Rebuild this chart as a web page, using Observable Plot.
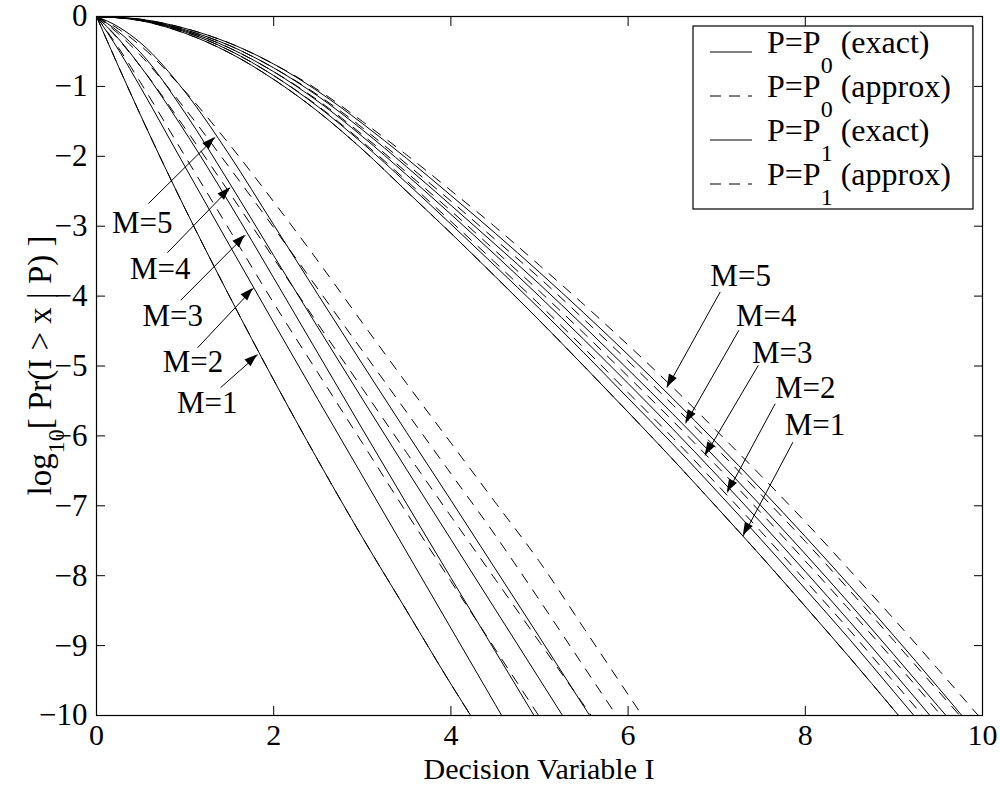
<!DOCTYPE html>
<html><head><meta charset="utf-8">
<script src="https://cdn.jsdelivr.net/npm/d3@7"></script>
<script src="https://cdn.jsdelivr.net/npm/@observablehq/plot@0.6"></script>
<style>body{margin:0;background:#fff} #chart{width:1000px;height:786px}</style>
</head><body><div id="chart"></div>
<script>
// ---------- data ----------
const xTicks = [0, 2, 4, 6, 8, 10];
const yTicks = [0, -1, -2, -3, -4, -5, -6, -7, -8, -9, -10];
const mValues = [1, 2, 3, 4, 5];

// left family (steep curves): x samples
const xLeft = [0, 0.25, 0.5, 1, 1.5, 2, 2.5, 3, 3.5, 4, 4.5, 5, 5.5, 6, 6.5];
const leftExactM1 = [0, -0.72, -1.42, -2.75, -4.0, -5.2, -6.35, -7.45, -8.5, -9.55, -10.55];
const leftExactM2 = [0, -0.48, -1.02, -2.15, -3.27, -4.38, -5.48, -6.57, -7.66, -8.75, -9.84, -10.93];
const leftExactM3 = [0, -0.32, -0.72, -1.65, -2.67, -3.74, -4.82, -5.9, -6.97, -8.03, -9.08, -10.13];
const leftExactM4 = [0, -0.22, -0.52, -1.38, -2.38, -3.42, -4.45, -5.47, -6.48, -7.48, -8.48, -9.48, -10.48];
const leftExactM5 = [0, -0.15, -0.38, -1.08, -1.98, -2.98, -3.98, -4.97, -5.95, -6.92, -7.9, -8.88, -9.87, -10.85];
const leftApproxM1 = [0, -0.72, -1.42, -2.75, -4.0, -5.2, -6.35, -7.45, -8.5, -9.55, -10.55];
const leftApproxM2 = [0, -0.45, -0.95, -2.0, -3.05, -4.1, -5.1, -6.1, -7.1, -8.08, -9.05, -10.02, -11.0];
const leftApproxM3 = [0, -0.33, -0.72, -1.6, -2.52, -3.46, -4.4, -5.32, -6.24, -7.15, -8.05, -8.95, -9.85, -10.75];
const leftApproxM4 = [0, -0.25, -0.56, -1.32, -2.16, -3.02, -3.9, -4.78, -5.66, -6.54, -7.42, -8.35, -9.3, -10.25];
const leftApproxM5 = [0, -0.18, -0.42, -1.07, -1.83, -2.65, -3.5, -4.38, -5.25, -6.1, -6.95, -7.8, -8.75, -9.7, -10.65];

// right family (slow curves): x samples
const xRight = [0, 0.5, 1, 1.5, 2, 2.5, 3, 3.5, 4, 4.5, 5, 5.5, 6, 6.5, 7, 7.5, 8, 8.5, 9, 9.5, 10];
const rightExactM1 = [0, -0.06, -0.24, -0.52, -0.9, -1.36, -1.9, -2.5, -3.1, -3.72, -4.35, -5.0, -5.66, -6.33, -7.02, -7.72, -8.44, -9.17, -9.92, -10.68];
const rightExactM2 = [0, -0.055, -0.22, -0.485, -0.845, -1.29, -1.81, -2.38, -2.97, -3.57, -4.18, -4.81, -5.46, -6.11, -6.79, -7.48, -8.19, -8.91, -9.66, -10.41];
const rightExactM3 = [0, -0.05, -0.205, -0.45, -0.79, -1.215, -1.715, -2.265, -2.83, -3.41, -4.005, -4.62, -5.25, -5.895, -6.56, -7.24, -7.94, -8.655, -9.39, -10.14];
const rightExactM4 = [0, -0.045, -0.19, -0.415, -0.735, -1.14, -1.62, -2.15, -2.7, -3.26, -3.83, -4.43, -5.05, -5.68, -6.33, -7.0, -7.69, -8.4, -9.13, -9.87, -10.6];
const rightExactM5 = [0, -0.04, -0.17, -0.38, -0.68, -1.07, -1.53, -2.03, -2.56, -3.1, -3.66, -4.24, -4.84, -5.46, -6.1, -6.76, -7.44, -8.14, -8.86, -9.6, -10.35];
const rightApproxM1 = [0, -0.06, -0.24, -0.52, -0.9, -1.36, -1.9, -2.5, -3.1, -3.72, -4.35, -5.0, -5.66, -6.33, -7.02, -7.72, -8.44, -9.17, -9.92, -10.68];
const rightApproxM2 = [0, -0.055, -0.22, -0.485, -0.845, -1.28, -1.79, -2.35, -2.93, -3.52, -4.12, -4.74, -5.38, -6.02, -6.69, -7.37, -8.07, -8.78, -9.52, -10.26];
const rightApproxM3 = [0, -0.05, -0.205, -0.45, -0.79, -1.2, -1.69, -2.23, -2.78, -3.35, -3.93, -4.53, -5.15, -5.78, -6.43, -7.1, -7.79, -8.49, -9.21, -9.95, -10.7];
const rightApproxM4 = [0, -0.045, -0.19, -0.415, -0.735, -1.125, -1.59, -2.11, -2.64, -3.19, -3.74, -4.33, -4.93, -5.55, -6.18, -6.84, -7.51, -8.21, -8.93, -9.65, -10.37];
const rightApproxM5 = [0, -0.04, -0.17, -0.38, -0.68, -1.05, -1.5, -1.98, -2.49, -3.01, -3.56, -4.12, -4.7, -5.3, -5.93, -6.57, -7.23, -7.92, -8.62, -9.34, -10.07];

// annotations (data coordinates), index = M-1
const leftLabelX = [1.25, 1.09, 0.86, 0.72, 0.516];
const leftLabelY = [-5.53, -4.94, -4.28, -3.61, -2.95];
const leftArrowFromX = [1.40, 1.14, 0.95, 0.80, 0.587];
const leftArrowFromY = [-5.31, -4.74, -4.06, -3.38, -2.675];
const leftArrowToX = [1.82, 1.77, 1.68, 1.51, 1.34];
const leftArrowToY = [-4.84, -3.89, -3.13, -2.45, -1.73];
const rightLabelX = [8.11, 8.00, 7.74, 7.56, 7.27];
const rightLabelY = [-5.85, -5.31, -4.81, -4.29, -3.71];
const rightArrowFromX = [7.86, 7.66, 7.47, 7.25, 7.04];
const rightArrowFromY = [-6.09, -5.54, -4.99, -4.49, -3.94];
const rightArrowToX = [7.30, 7.12, 6.87, 6.65, 6.44];
const rightArrowToY = [-7.43, -6.81, -6.28, -5.82, -5.31];

const legendMain = ["P=P", "P=P", "P=P", "P=P"];
const legendSub = ["0", "0", "1", "1"];
const legendRest = [" (exact)", " (approx)", " (exact)", " (approx)"];
const legendDashed = [false, true, false, true];

// ---------- tables ----------
function rowsFor(xs, ys, key) { return ys.map((y, i) => ({x: xs[i], y, key})); }
const exactRows = [
  ...[leftExactM1, leftExactM2, leftExactM3, leftExactM4, leftExactM5].flatMap((s, i) => rowsFor(xLeft, s, "L" + mValues[i])),
  ...[rightExactM1, rightExactM2, rightExactM3, rightExactM4, rightExactM5].flatMap((s, i) => rowsFor(xRight, s, "R" + mValues[i]))
];
const approxRows = [
  ...[leftApproxM1, leftApproxM2, leftApproxM3, leftApproxM4, leftApproxM5].flatMap((s, i) => rowsFor(xLeft, s, "L" + mValues[i])),
  ...[rightApproxM1, rightApproxM2, rightApproxM3, rightApproxM4, rightApproxM5].flatMap((s, i) => rowsFor(xRight, s, "R" + mValues[i]))
];
const arrows = [
  ...mValues.map((m, i) => ({x1: leftArrowFromX[i], y1: leftArrowFromY[i], x2: leftArrowToX[i], y2: leftArrowToY[i]})),
  ...mValues.map((m, i) => ({x1: rightArrowFromX[i], y1: rightArrowFromY[i], x2: rightArrowToX[i], y2: rightArrowToY[i]}))
];
const labels = [
  ...mValues.map((m, i) => ({x: leftLabelX[i], y: leftLabelY[i], t: "M=" + m})),
  ...mValues.map((m, i) => ({x: rightLabelX[i], y: rightLabelY[i], t: "M=" + m}))
];

const FONT = "'Liberation Serif', 'Times New Roman', serif";
const fmt = d => d < 0 ? "\u2212" + (-d) : String(d);
const blank = () => "";

const plot = Plot.plot({
  width: 1000, height: 786,
  marginLeft: 96, marginRight: 18, marginTop: 16, marginBottom: 71,
  x: {domain: [0, 10]},
  y: {domain: [-10, 0]},
  style: {fontFamily: FONT, fontSize: "31px", background: "white", color: "black", overflow: "visible"},
  marks: [
    Plot.line(exactRows, {x: "x", y: "y", z: "key", stroke: "black", strokeWidth: 1, curve: "monotone-x", clip: true}),
    Plot.line(approxRows, {x: "x", y: "y", z: "key", stroke: "black", strokeWidth: 1, strokeDasharray: "10,9", curve: "monotone-x", clip: true}),
    Plot.link(arrows, {x1: "x1", y1: "y1", x2: "x2", y2: "y2", stroke: "black", strokeWidth: 1}),
    Plot.text(labels, {x: "x", y: "y", text: "t", fontSize: 31, fill: "black"}),
    Plot.frame({stroke: "black", strokeWidth: 1.2}),
    Plot.axisX({anchor: "bottom", ticks: xTicks, tickSize: -9, tickPadding: 17, tickFormat: fmt, label: null, fontSize: 30}),
    Plot.axisX({anchor: "top", ticks: xTicks, tickSize: -9, tickFormat: blank, label: null}),
    Plot.axisY({anchor: "left", ticks: yTicks, tickSize: -9, tickPadding: 18, tickFormat: fmt, label: null, fontSize: 31}),
    Plot.axisY({anchor: "right", ticks: yTicks, tickSize: -9, tickFormat: blank, label: null})
  ]
});
document.getElementById("chart").appendChild(plot);

// ---------- arrowheads, axis titles, legend (positions through Plot's scales) ----------
const sxo = plot.scale("x"), syo = plot.scale("y");
const fx = sxo.apply ? v => sxo.apply(v) : d3.scaleLinear(sxo.domain, sxo.range);
const fy = syo.apply ? v => syo.apply(v) : d3.scaleLinear(syo.domain, syo.range);
const svg = d3.select(plot);

const heads = svg.append("g");
arrows.forEach(a => {
  const x1 = fx(a.x1), y1 = fy(a.y1), x2 = fx(a.x2), y2 = fy(a.y2);
  const ang = Math.atan2(y2 - y1, x2 - x1);
  const L = 13, W = 4.5;
  const bx = x2 - L * Math.cos(ang), by = y2 - L * Math.sin(ang);
  const px = -Math.sin(ang) * W, py = Math.cos(ang) * W;
  heads.append("path")
    .attr("d", `M${x2},${y2}L${bx + px},${by + py}L${bx - px},${by - py}Z`)
    .attr("fill", "black");
});

// axis titles
svg.append("text")
  .attr("x", (fx(0) + fx(10)) / 2).attr("y", 779)
  .attr("text-anchor", "middle")
  .attr("font-family", FONT).attr("font-size", 30).attr("fill", "black")
  .text("Decision Variable I");

const yl = svg.append("text")
  .attr("transform", `translate(51,${(fy(0) + fy(-10)) / 2}) rotate(-90)`)
  .attr("text-anchor", "middle")
  .attr("font-family", FONT).attr("font-size", 33).attr("fill", "black");
yl.append("tspan").text("log");
yl.append("tspan").attr("font-size", 24).attr("dy", 13).text("10");
yl.append("tspan").attr("dy", -13).text("[ Pr(I > x | P) ]");

// legend
const lg = svg.append("g");
lg.append("rect").attr("x", 693).attr("y", 26).attr("width", 280).attr("height", 183)
  .attr("fill", "white").attr("stroke", "black").attr("stroke-width", 1.2);
legendMain.forEach((t, i) => {
  const base = 53 + i * 44;
  lg.append("line").attr("x1", 710).attr("x2", 752).attr("y1", base - 1).attr("y2", base - 1)
    .attr("stroke", "black").attr("stroke-width", 1)
    .attr("stroke-dasharray", legendDashed[i] ? "11,8" : null);
  const tx = lg.append("text").attr("x", 767).attr("y", base)
    .attr("text-anchor", "start")
    .attr("font-family", FONT).attr("font-size", 32).attr("fill", "black");
  tx.append("tspan").text(t);
  tx.append("tspan").attr("font-size", 24).attr("dy", 20).text(legendSub[i]);
  tx.append("tspan").attr("dy", -20).text(legendRest[i]);
});
</script>
</body></html>
